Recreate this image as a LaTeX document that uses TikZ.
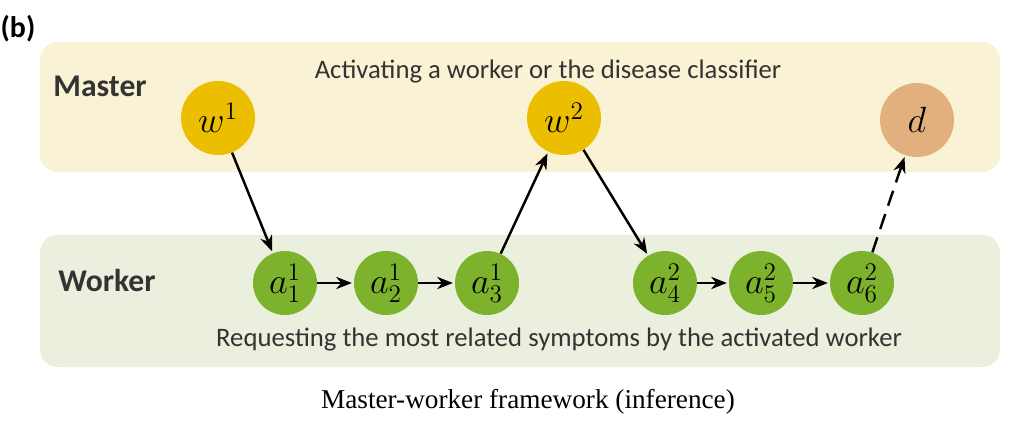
\documentclass[tikz,border=0pt]{standalone}
\usepackage{fontspec}
\setmainfont{Carlito}
\newfontfamily\capfont{Liberation Serif}
\usetikzlibrary{arrows.meta}
\definecolor{masterbg}{RGB}{250,242,212}
\definecolor{workerbg}{RGB}{234,240,221}
\definecolor{wgold}{RGB}{236,190,0}
\definecolor{dtan}{RGB}{226,176,126}
\definecolor{agreen}{RGB}{124,178,44}
\definecolor{txt}{RGB}{51,51,51}
\begin{document}
\begin{tikzpicture}[x=0.02cm,y=-0.02cm,
  mnode/.style={circle,inner sep=0pt,minimum size=1.48cm,font=\fontsize{20.74}{24}\selectfont},
  wnode/.style={circle,inner sep=0pt,minimum size=1.28cm,fill=agreen,font=\fontsize{20.74}{24}\selectfont},
  link/.style={-{Stealth[length=9pt,width=7pt]},line width=1.4pt,shorten >=1pt}]
  \useasboundingbox (0,0) rectangle (1031,432);
  % the two layers
  \fill[masterbg,rounded corners=0.35cm] (40,42) rectangle (1000,172);
  \fill[workerbg,rounded corners=0.35cm] (40,235) rectangle (1000,367);
  \node[font=\bfseries\fontsize{17}{20}\selectfont] (tag) at (18,29) {(b)};
  \node[txt,font=\bfseries\fontsize{18}{21}\selectfont] (mlabel) at (100,86) {Master};
  \node[txt,font=\bfseries\fontsize{18}{21}\selectfont] (wlabel) at (107,281) {Worker};
  \node[txt,font=\fontsize{15.2}{18}\selectfont] (mtext) at (548,72) {Activating a worker or the disease classifier};
  \node[txt,font=\fontsize{15.2}{18}\selectfont] (wtext) at (559,340) {Requesting the most related symptoms by the activated worker};
  \node[font=\capfont\fontsize{15.5}{18}\selectfont] (caption) at (528,402) {Master-worker framework (inference)};
  % master nodes
  \node[mnode,fill=wgold] (w1) at (218,118) {$w^1$};
  \node[mnode,fill=wgold] (w2) at (564,118) {$w^2$};
  \node[mnode,fill=dtan] (d) at (917,120) {$d$};
  % worker nodes
  \foreach \n/\x/\s in {1/285/1, 2/386/1, 3/487/1, 4/665/2, 5/761/2, 6/862/2}
    \node[wnode] (a\n) at (\x,283) {$a^{\s}_{\n}$};
  \draw[link] (w1) -- (a1);
  \draw[link] (a1) -- (a2);
  \draw[link] (a2) -- (a3);
  \draw[link] (a3) -- (w2);
  \draw[link] (w2) -- (a4);
  \draw[link] (a4) -- (a5);
  \draw[link] (a5) -- (a6);
  \draw[link,dash pattern=on 9pt off 5pt] (a6) -- (d);
\end{tikzpicture}
\end{document}
